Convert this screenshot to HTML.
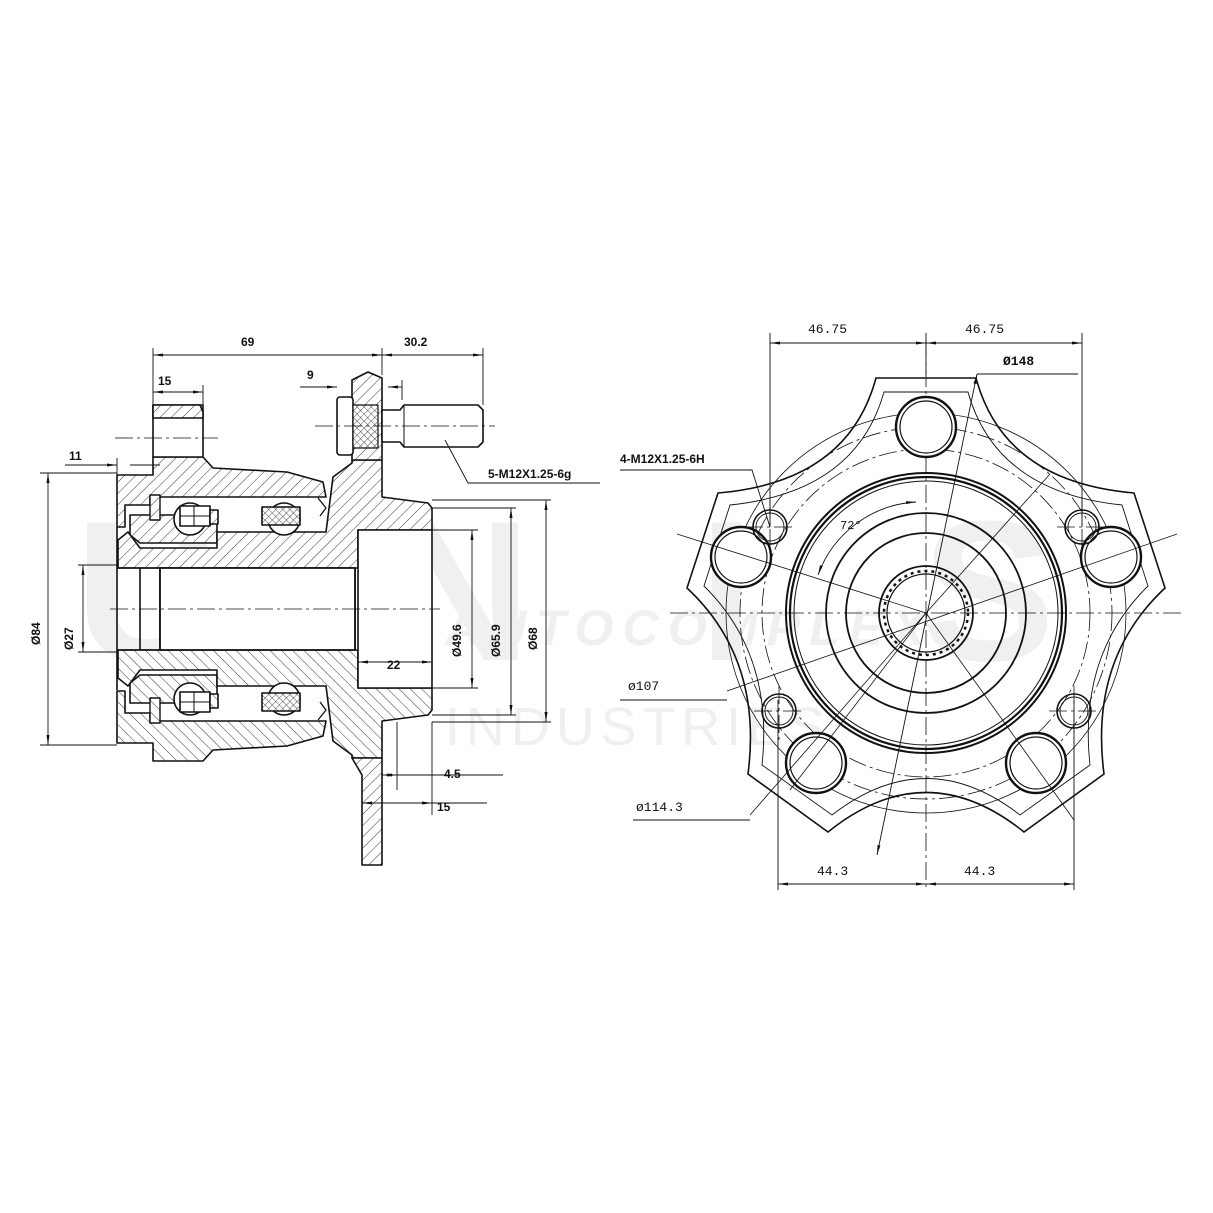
<!DOCTYPE html>
<html><head><meta charset="utf-8"><style>
html,body{margin:0;padding:0;background:#fff}
svg{display:block}
.t{font-family:"Liberation Sans",sans-serif;font-size:12px;font-weight:bold;fill:#111}
.m{font-family:"Liberation Mono",monospace;font-size:13px;fill:#111}
.wm{font-family:"Liberation Sans",sans-serif;fill:#f0f0f0}
</style></head><body>
<svg width="1213" height="1213" viewBox="0 0 1213 1213" xmlns="http://www.w3.org/2000/svg">
<defs>
<pattern id="h" width="8" height="8" patternUnits="userSpaceOnUse" patternTransform="rotate(45)">
<rect width="8" height="8" fill="#fff"/><line x1="0" y1="0" x2="0" y2="8" stroke="#222" stroke-width="0.9"/>
</pattern>
<pattern id="x" width="5" height="5" patternUnits="userSpaceOnUse" patternTransform="rotate(45)">
<rect width="5" height="5" fill="#fff"/><path d="M0 0V5M0 0H5" stroke="#222" stroke-width="0.8"/>
</pattern>
<marker id="a" markerWidth="10" markerHeight="6" refX="10" refY="3" orient="auto-start-reverse" markerUnits="userSpaceOnUse"><path d="M0 1.5L10 3L0 4.5z" fill="#111"/></marker>
</defs>
<rect width="1213" height="1213" fill="#fff"/>

<!-- watermark -->
<text class="wm" x="75" y="660" font-size="200" font-weight="bold" letter-spacing="20" textLength="1000">UNIS</text>
<text class="wm" x="445" y="645" font-size="50" font-style="italic" font-weight="bold" fill="#e6e6e6" textLength="480">AUTOCOMPLEX</text>
<text class="wm" x="445" y="745" font-size="54" fill="#ececec" textLength="380">INDUSTRIES</text>

<!-- ================= LEFT VIEW ================= -->
<g stroke="#111" stroke-width="1.6" fill="none" stroke-linejoin="round">
<g id="half">
<polygon fill="url(#h)" points="117,475 153,475 153,457 203,457 213,468 287,472 323,482 326,497 150,497 150,505 125,505 125,527 117,527"/>
<polygon fill="url(#h)" points="130,515 217,515 217,543 140,543 130,535"/>
<polygon fill="url(#h)" points="118,540 128,532 140,548 217,548 217,532 326,532 333,477 352,463 352,460 382,460 382,497 428,503 432,508 432,530 358,530 358,568 118,568"/>
<circle cx="190" cy="519" r="16" fill="#fff"/>
<circle cx="284" cy="519" r="16" fill="#fff"/>
<rect x="180" y="506" width="30" height="20" fill="#fff"/>
<path d="M194 506V526M180 516H210" stroke-width="1"/>
<rect x="210" y="510" width="8" height="14" fill="url(#h)"/>
<rect x="262" y="507" width="38" height="18" fill="url(#x)"/>
<rect x="150" y="495" width="10" height="25" fill="url(#h)" stroke-width="1.4"/>
<path d="M318 498l8 10l-6 8" stroke-width="1.3"/>
<line x1="160" y1="570" x2="355" y2="570" stroke-width="1"/>
</g>
<use href="#half" transform="translate(0,1218) scale(1,-1)"/>
<path d="M117 527V690M140 568V650M160 568V650M355 568V650M118 568H160M118 650H160"/>
<rect x="160" y="568" width="195" height="82" fill="#fff" stroke-width="1.8"/>
<rect x="358" y="530" width="74" height="158" fill="#fff" stroke-width="1.6"/>
<polygon fill="url(#h)" points="352,380 368,372 382,378 382,460 352,460"/>
<polygon fill="url(#h)" points="352,758 382,758 382,865 362,865 362,775"/>
<rect x="153" y="405" width="50" height="52" fill="#fff"/>
<polygon fill="url(#h)" points="153,405 200,405 203,412 203,418 153,418"/>
<rect x="337" y="397" width="16" height="58" rx="3" fill="#fff"/>
<rect x="353" y="405" width="25" height="43" fill="url(#x)" stroke-width="1.2"/>
<path d="M382 410H400L404 405H478L483 410V442L478 447H404L400 442H382Z" fill="#fff"/>
<line x1="404" y1="405" x2="404" y2="447" stroke-width="1"/>
</g>

<g stroke="#111" stroke-width="0.8" stroke-dasharray="18 4 3 4" fill="none">
<line x1="110" y1="609" x2="440" y2="609"/>
<line x1="115" y1="438" x2="218" y2="438"/>
<line x1="315" y1="426" x2="495" y2="426"/>
</g>

<g stroke="#111" stroke-width="0.9" fill="none">
<path d="M153 348V405M382 348V375M483 348V405M203 385V405M402 380V400"/>
<line x1="153" y1="355" x2="382" y2="355" marker-start="url(#a)" marker-end="url(#a)"/>
<line x1="382" y1="355" x2="483" y2="355" marker-start="url(#a)" marker-end="url(#a)"/>
<line x1="153" y1="392" x2="203" y2="392" marker-start="url(#a)" marker-end="url(#a)"/>
<line x1="300" y1="387" x2="337" y2="387" marker-end="url(#a)"/>
<line x1="402" y1="387" x2="388" y2="387" marker-end="url(#a)"/>
<path d="M117 458V475"/>
<line x1="65" y1="465" x2="117" y2="465" marker-end="url(#a)"/>
<line x1="160" y1="465" x2="130" y2="465"/>
<path d="M40 473H117M40 745H117"/>
<line x1="48" y1="473" x2="48" y2="745" marker-start="url(#a)" marker-end="url(#a)"/>
<path d="M78 565H118M78 652H118"/>
<line x1="83" y1="565" x2="83" y2="652" marker-start="url(#a)" marker-end="url(#a)"/>
<path d="M432 530H478M432 688H478M432 508H516M432 715H516M432 500H551M432 722H551"/>
<line x1="472" y1="530" x2="472" y2="688" marker-start="url(#a)" marker-end="url(#a)"/>
<line x1="511" y1="508" x2="511" y2="715" marker-start="url(#a)" marker-end="url(#a)"/>
<line x1="546" y1="500" x2="546" y2="722" marker-start="url(#a)" marker-end="url(#a)"/>
<line x1="358" y1="662" x2="432" y2="662" marker-start="url(#a)" marker-end="url(#a)"/>
<path d="M397 722V790M432 722V815"/>
<line x1="382" y1="775" x2="397" y2="775" marker-start="url(#a)" marker-end="url(#a)"/>
<line x1="397" y1="775" x2="503" y2="775"/>
<line x1="362" y1="803" x2="432" y2="803" marker-start="url(#a)" marker-end="url(#a)"/>
<line x1="432" y1="803" x2="487" y2="803"/>
<path d="M445 440L468 483H600"/>
</g>
<g class="t">
<text x="241" y="346">69</text>
<text x="404" y="346">30.2</text>
<text x="158" y="385">15</text>
<text x="307" y="379">9</text>
<text x="69" y="460">11</text>
<text x="488" y="478">5-M12X1.25-6g</text>
<text x="387" y="669">22</text>
<text x="444" y="778">4.5</text>
<text x="437" y="811">15</text>
<text transform="translate(40,645) rotate(-90)">Ø84</text>
<text transform="translate(73,650) rotate(-90)">Ø27</text>
<text transform="translate(461,657) rotate(-90)">Ø49.6</text>
<text transform="translate(500,657) rotate(-90)">Ø65.9</text>
<text transform="translate(537,650) rotate(-90)">Ø68</text>
</g>

<!-- ================= RIGHT VIEW ================= -->
<g stroke="#111" fill="none">
<path stroke-width="1.6" d="M876 378L976 378Q1004 482 1134 493L1165 588Q1089 659 1104 774L1024 832Q926 753 828 832L748 774Q763 659 687 588L718 493Q848 482 876 378Z"/>
<path stroke-width="0.9" d="M884 392L968 392Q996 492 1122 505L1148 586Q1078 655 1090 765L1020 815Q926 742 832 815L762 765Q774 655 704 586L730 505Q856 492 884 392Z"/>
<g stroke-width="0.8" stroke-dasharray="18 4 3 4">
<circle cx="926" cy="613" r="186"/>
<circle cx="926" cy="613" r="164"/>
<line x1="670" y1="613" x2="1185" y2="613"/>
<line x1="926" y1="340" x2="926" y2="890"/>
<line x1="745" y1="527" x2="795" y2="527"/><line x1="770" y1="500" x2="770" y2="555"/>
<line x1="1057" y1="527" x2="1107" y2="527"/><line x1="1082" y1="500" x2="1082" y2="555"/>
<line x1="754" y1="711" x2="804" y2="711"/><line x1="779" y1="686" x2="779" y2="740"/>
<line x1="1049" y1="711" x2="1099" y2="711"/><line x1="1074" y1="686" x2="1074" y2="740"/>
</g>
<circle cx="926" cy="613" r="200" stroke-width="0.8"/>
<circle cx="926" cy="613" r="140" stroke-width="2"/>
<circle cx="926" cy="613" r="136" stroke-width="2.2"/>
<circle cx="926" cy="613" r="132" stroke-width="1"/>
<circle cx="926" cy="613" r="100" stroke-width="1.8"/>
<circle cx="926" cy="613" r="80" stroke-width="1.8"/>
<circle cx="926" cy="613" r="47" stroke-width="1.8"/>
<circle cx="926" cy="613" r="42" stroke-width="2.5" stroke-dasharray="3 4"/>
<circle cx="926" cy="613" r="39" stroke-width="1.2"/>
<g stroke-width="2.4" fill="#fff">
<circle cx="926" cy="427" r="30"/><circle cx="926" cy="427" r="26" stroke-width="1.2"/>
<circle cx="1111" cy="557" r="30"/><circle cx="1111" cy="557" r="26" stroke-width="1.2"/>
<circle cx="741" cy="557" r="30"/><circle cx="741" cy="557" r="26" stroke-width="1.2"/>
<circle cx="816" cy="763" r="30"/><circle cx="816" cy="763" r="26" stroke-width="1.2"/>
<circle cx="1036" cy="763" r="30"/><circle cx="1036" cy="763" r="26" stroke-width="1.2"/>
</g>
<g stroke-width="1.6">
<circle cx="770" cy="527" r="17"/><circle cx="770" cy="527" r="14" stroke-width="0.9"/>
<circle cx="1082" cy="527" r="17"/><circle cx="1082" cy="527" r="14" stroke-width="0.9"/>
<circle cx="779" cy="711" r="17"/><circle cx="779" cy="711" r="14" stroke-width="0.9"/>
<circle cx="1074" cy="711" r="17"/><circle cx="1074" cy="711" r="14" stroke-width="0.9"/>
</g>
<g stroke-width="0.8">
<line x1="677" y1="534" x2="926" y2="613"/>
<line x1="727" y1="691" x2="1177" y2="534"/>
<line x1="926" y1="613" x2="750" y2="815"/>
<line x1="926" y1="613" x2="1050" y2="474"/>
<line x1="926" y1="613" x2="1074" y2="820"/>
<line x1="926" y1="613" x2="790" y2="790"/>
</g>
<line x1="977" y1="374" x2="877" y2="855" stroke-width="0.9" marker-start="url(#a)" marker-end="url(#a)"/>
<path d="M977 374H1078M620 470H752L770 527M620 700H727M633 820H750" stroke-width="0.9"/>
<path d="M916 502A111 111 0 0 0 818 575" stroke-width="0.9" marker-start="url(#a)" marker-end="url(#a)"/>
<g stroke-width="0.9">
<path d="M770 333V527M926 333V375M1082 333V527M778 700V890M1074 700V890"/>
<line x1="770" y1="343" x2="926" y2="343" marker-start="url(#a)" marker-end="url(#a)"/>
<line x1="926" y1="343" x2="1082" y2="343" marker-start="url(#a)" marker-end="url(#a)"/>
<line x1="778" y1="884" x2="926" y2="884" marker-start="url(#a)" marker-end="url(#a)"/>
<line x1="926" y1="884" x2="1074" y2="884" marker-start="url(#a)" marker-end="url(#a)"/>
</g>
</g>
<g class="m">
<text x="808" y="333">46.75</text>
<text x="965" y="333">46.75</text>
<text x="1003" y="365" font-weight="bold">Ø148</text>
<text x="620" y="463" class="t">4-M12X1.25-6H</text>
<text x="840" y="529" font-size="12">72°</text>
<text x="628" y="690">ø107</text>
<text x="636" y="811">ø114.3</text>
<text x="817" y="875">44.3</text>
<text x="964" y="875">44.3</text>
</g>
</svg>
</body></html>
